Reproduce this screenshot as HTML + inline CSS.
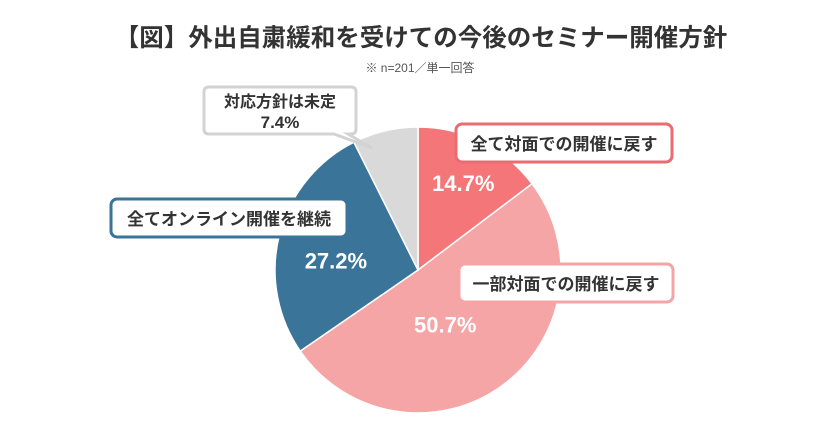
<!DOCTYPE html>
<html><head><meta charset="utf-8"><style>
body{margin:0;background:#fff;}
svg text{font-family:"Liberation Sans","Noto Sans CJK JP",sans-serif;}
</style></head><body>
<svg width="840" height="440" viewBox="0 0 840 440" style="position:absolute;left:0;top:0">
<text x="421" y="46" text-anchor="middle" font-size="24.5" font-weight="bold" fill="#333">【図】外出自粛緩和を受けての今後のセミナー開催方針</text>
<text x="420" y="72" text-anchor="middle" font-size="12" fill="#555">※ n=201／単一回答</text>
<g id="slices"></g>
<g id="labels"></g>
</svg>
<script>
const categories=["全て対面での開催に戻す","一部対面での開催に戻す","全てオンライン開催を継続","対応方針は未定"];
const values=[14.7,50.7,27.2,7.4];
const colors=["#f47678","#f5a5a5","#3a7599","#d9d9d9"];
const labelShift=[[7,-10],[-23,-15],[1,12]];
const cx=418,cy=270,r=143;
const NS="http://www.w3.org/2000/svg";
const g=document.getElementById('slices'),lg=document.getElementById('labels');
const total=values.reduce((a,b)=>a+b,0);
function pt(a,rr){return [cx+rr*Math.sin(a),cy-rr*Math.cos(a)];}
let a0=0;
values.forEach((v,i)=>{
  const a1=a0+v/total*2*Math.PI;
  const p0=pt(a0,r),p1=pt(a1,r);
  const p=document.createElementNS(NS,'path');
  p.setAttribute('d',`M${cx},${cy}L${p0[0]},${p0[1]}A${r},${r} 0 ${a1-a0>Math.PI?1:0} 1 ${p1[0]},${p1[1]}Z`);
  p.setAttribute('fill',colors[i]);p.setAttribute('stroke','#fff');p.setAttribute('stroke-width','1.5');
  
  
  g.appendChild(p);
  if(i<3){
    const m=(a0+a1)/2,lp=pt(m,r*0.6);
    const t=document.createElementNS(NS,'text');
    t.setAttribute('x',lp[0]+labelShift[i][0]);t.setAttribute('y',lp[1]+8+labelShift[i][1]);
    t.setAttribute('text-anchor','middle');t.setAttribute('font-size','22');t.setAttribute('font-weight','bold');t.setAttribute('fill','#fff');
    t.textContent=v.toFixed(1)+'%';
    
    
    lg.appendChild(t);
  }
  a0=a1;
});
</script>
<svg style="position:absolute;left:0;top:0" width="840" height="440">
<g>
<rect x="456" y="124" width="216" height="38" rx="6" fill="#fff" stroke="#e86c70" stroke-width="3"/>
<text x="564" y="150" text-anchor="middle" font-size="17" font-weight="bold" fill="#333" font-family="Liberation Sans,Noto Sans CJK JP,sans-serif">全て対面での開催に戻す</text></g>
<g>
<rect x="459" y="264" width="214" height="38" rx="6" fill="#fff" stroke="#f5a5a5" stroke-width="3"/>
<text x="566" y="290" text-anchor="middle" font-size="17" font-weight="bold" fill="#333" font-family="Liberation Sans,Noto Sans CJK JP,sans-serif">一部対面での開催に戻す</text></g>
<g>
<rect x="111" y="199" width="236" height="38" rx="6" fill="#fff" stroke="#3a7599" stroke-width="3"/>
<text x="229" y="225" text-anchor="middle" font-size="17" font-weight="bold" fill="#333" font-family="Liberation Sans,Noto Sans CJK JP,sans-serif">全てオンライン開催を継続</text></g>
<g>
<path d="M209,87 H351 Q356,87 356,92 V129 Q356,134 351,134 H348 L372,148 L334,134 H209 Q204,134 204,129 V92 Q204,87 209,87 Z" fill="#fff" stroke="#d3d3d3" stroke-width="3"/>
<text x="280" y="107" text-anchor="middle" font-size="16" font-weight="bold" fill="#333" font-family="Liberation Sans,Noto Sans CJK JP,sans-serif">対応方針は未定</text>
<text x="280" y="128" text-anchor="middle" font-size="17" font-weight="bold" fill="#333" font-family="Liberation Sans,Noto Sans CJK JP,sans-serif">7.4%</text></g>
</svg>
</body></html>
